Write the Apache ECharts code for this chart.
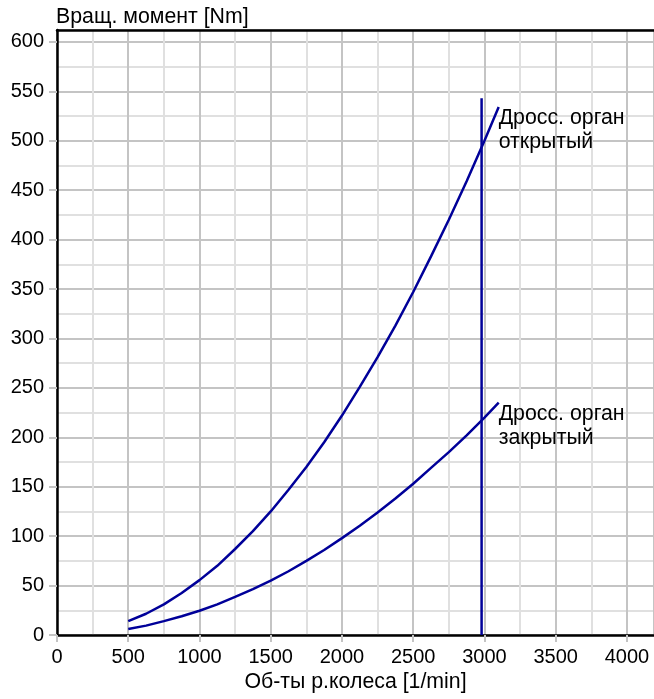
<!DOCTYPE html>
<html>
<head>
<meta charset="utf-8">
<script src="https://cdn.jsdelivr.net/npm/echarts@6/dist/echarts.min.js"></script>
<style>html,body{margin:0;padding:0;background:#fff}#c{width:654px;height:699px}</style>
</head>
<body>
<div id="c"></div>
<script>
var rpm = [500, 625, 750, 875, 1000, 1125, 1250, 1375, 1500, 1625, 1750, 1875, 2000, 2125, 2250, 2375, 2500, 2625, 2750, 2875, 3000, 3100];
var torqueOpen = [14, 21.5, 31, 42.5, 55.5, 70, 87, 105, 125, 147, 170, 195, 222, 251, 281, 313, 347, 383, 420, 459, 500, 534];
var torqueClosed = [6, 9.5, 14, 19, 24.5, 31, 38.5, 46.5, 55, 64.5, 75, 86, 98, 110.5, 124, 138, 153, 169, 185, 202, 220, 235];
var limitRpm = [2980, 2980];
var limitTorque = [0, 543];
var labelOpen = 'Дросс. орган\nоткрытый';
var labelClosed = 'Дросс. орган\nзакрытый';
var xTitle = 'Об-ты р.колеса [1/min]';
var yTitle = 'Вращ. момент [Nm]';

function pairs(xs, ys) { return xs.map(function (x, i) { return [x, ys[i]]; }); }

var FONT = 'Liberation Sans, Arial, sans-serif';
var FS = 20;   // tick numbers
var TS = 21.3; // texts
var lineColor = '#000099';
var major = '#c4c4c4', minor = '#e0e0e0';

var chart = echarts.init(document.getElementById('c'), null, {renderer: 'canvas'});
chart.setOption({
  animation: false,
  grid: {left: 57, right: 0, top: 30, bottom: 64, containLabel: false},
  xAxis: [{
    type: 'value', min: 0, max: 4190, interval: 500,
    name: xTitle, nameLocation: 'middle', nameGap: 36,
    nameTextStyle: {fontFamily: FONT, fontSize: TS, color: '#000'},
    axisLine: {show: true, onZero: false, lineStyle: {color: '#000', width: 2.5}},
    axisTick: {show: true, length: 7, lineStyle: {color: major, width: 2}},
    axisLabel: {fontFamily: FONT, fontSize: FS, color: '#000', margin: 12, showMaxLabel: false,
      formatter: function (v) { return v % 500 === 0 ? String(v) : ''; }},
    splitLine: {show: true, lineStyle: {color: major, width: 2}},
    minorTick: {show: false, splitNumber: 2},
    minorSplitLine: {show: true, lineStyle: {color: minor, width: 2}}
  }, {
    type: 'value', min: 0, max: 4190, position: 'top',
    axisLine: {show: true, onZero: false, lineStyle: {color: '#000', width: 2.5}},
    axisTick: {show: false}, axisLabel: {show: false}, splitLine: {show: false}
  }],
  yAxis: {
    type: 'value', min: 0, max: 612, interval: 50,
    name: yTitle, nameLocation: 'end', nameGap: 2,
    nameTextStyle: {fontFamily: FONT, fontSize: TS, color: '#000', align: 'left', padding: [0, 0, 0, -1]},
    axisLine: {show: true, onZero: false, lineStyle: {color: '#000', width: 2.5}},
    axisTick: {show: true, length: 8, lineStyle: {color: major, width: 2}},
    axisLabel: {fontFamily: FONT, fontSize: FS, color: '#000', margin: 13, showMaxLabel: false,
      formatter: function (v) { return v % 50 === 0 ? String(v) : ''; }},
    splitLine: {show: true, lineStyle: {color: major, width: 2}},
    minorTick: {show: false, splitNumber: 2},
    minorSplitLine: {show: true, lineStyle: {color: minor, width: 2}}
  },
  series: [{
    type: 'line', data: pairs(rpm, torqueOpen), smooth: false, showSymbol: false,
    lineStyle: {color: lineColor, width: 2.5}, z: 3,
    endLabel: {show: true, formatter: labelOpen, fontFamily: FONT, fontSize: TS, color: '#000',
      lineHeight: 24, align: 'left', verticalAlign: 'top', distance: 0, offset: [0, -1]}
  }, {
    type: 'line', data: pairs(rpm, torqueClosed), smooth: false, showSymbol: false,
    lineStyle: {color: lineColor, width: 2.5}, z: 3,
    endLabel: {show: true, formatter: labelClosed, fontFamily: FONT, fontSize: TS, color: '#000',
      lineHeight: 24, align: 'left', verticalAlign: 'top', distance: 0, offset: [0, -1]}
  }, {
    type: 'line', data: pairs(limitRpm, limitTorque), showSymbol: false,
    lineStyle: {color: lineColor, width: 2.5}, z: 3
  }]
});
</script>
</body>
</html>
